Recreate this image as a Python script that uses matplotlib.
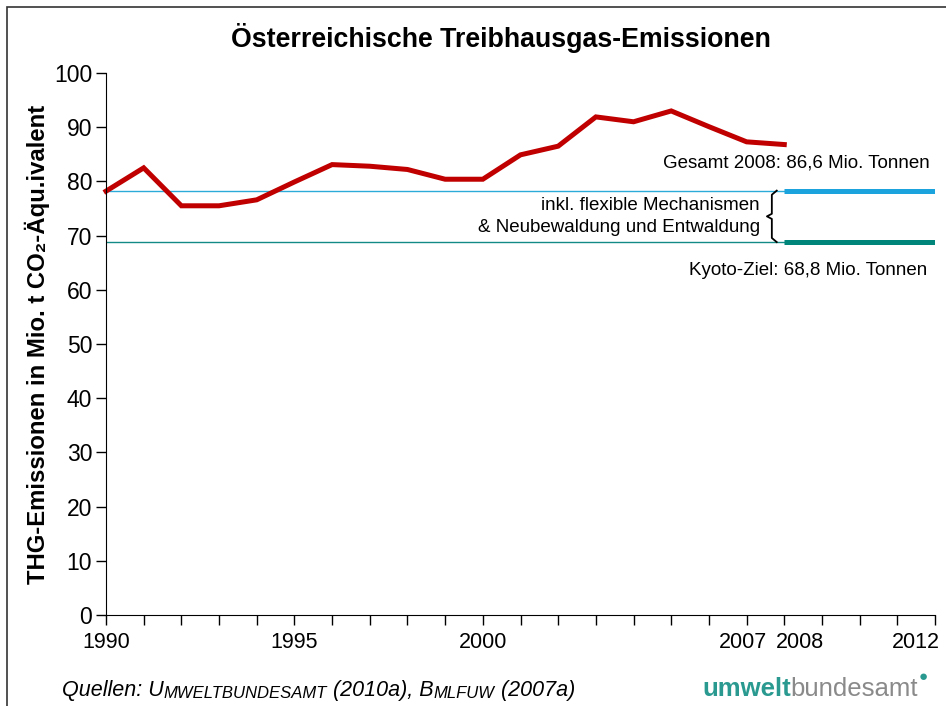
import matplotlib
matplotlib.use("Agg")
import matplotlib.pyplot as plt
from matplotlib.patches import Rectangle
from matplotlib.transforms import ScaledTranslation

plt.rcParams['font.family'] = ['Liberation Sans', 'DejaVu Sans']

# emissions, Mio. t CO2-Aequivalent
years = list(range(1990, 2009))
emissions = [78.2, 82.5, 75.5, 75.5, 76.6, 79.9, 83.1, 82.8, 82.2, 80.4,
             80.4, 84.9, 86.5, 91.9, 91.0, 93.0, 90.1, 87.3, 86.8]

flex_level = 78.3    # inkl. flexible Mechanismen & Neubewaldung
kyoto_level = 68.8   # Kyoto-Ziel
period_start = 2008
period_end = 2012

tick_years = list(range(1990, 2013))
label_years = [1990, 1995, 2000, 2007, 2008, 2012]
y_ticks = list(range(0, 101, 10))

fig = plt.figure(figsize=(9.46, 7.06), dpi=100)
# outer frame (open on right and bottom like the slide crop)
fig.patches.append(Rectangle((7 / 946, -0.05), 1.2, 1 - 7 / 706 + 0.05,
                             transform=fig.transFigure, fill=False,
                             edgecolor='#333333', linewidth=1.2))

ax = fig.add_axes([106 / 946, 1 - 615 / 706, (935 - 106) / 946, (615 - 73) / 706])
ax.set_xlim(1990, 2012)
ax.set_ylim(0, 100)

# thin reference lines up to 2008, thick ones over the Kyoto period
ax.plot([years[0], period_start], [flex_level, flex_level], color='#2AABD8', lw=1.0)
ax.plot([years[0], period_start], [kyoto_level, kyoto_level], color='#138A86', lw=1.0)
ax.plot([period_start, period_end], [flex_level, flex_level], color='#1AA3DC', lw=3.6,
        solid_capstyle='butt')
ax.plot([period_start, period_end], [kyoto_level, kyoto_level], color='#00857A', lw=3.6,
        solid_capstyle='butt')
ax.plot(years, emissions, color='#C00000', lw=3.6, solid_joinstyle='miter', clip_on=False)

ax.spines['top'].set_visible(False)
ax.spines['right'].set_visible(False)
ax.set_xticks(tick_years)
ax.set_xticklabels([str(y) if y in label_years else '' for y in tick_years])
ax.set_yticks(y_ticks)
ax.tick_params(axis='both', labelsize=16.5, length=7, width=1, direction='out', pad=3)
ax.tick_params(axis='x', labelsize=15.5, pad=5)
shifts = {2007: -0.04, 2008: 0.16, 2012: -0.19}
for lab, y in zip(ax.get_xticklabels(), tick_years):
    if y in shifts:
        lab.set_transform(lab.get_transform() +
                          ScaledTranslation(shifts[y], 0, fig.dpi_scale_trans))

ax.set_ylabel('THG-Emissionen in Mio. t CO₂-Äqu.ivalent', fontsize=17.2,
              fontweight='bold', labelpad=3)

# labels at the right
ax.text(2011.85, emissions[-1] - 1.8, 'Gesamt 2008: 86,6 Mio. Tonnen', fontsize=13.5,
        ha='right', va='top')
ax.text(2011.8, kyoto_level - 3.6, 'Kyoto-Ziel: 68,8 Mio. Tonnen', fontsize=13.5,
        ha='right', va='top')
ax.text(2007.35, (flex_level + kyoto_level) / 2,
        'inkl. flexible Mechanismen\n& Neubewaldung und Entwaldung',
        fontsize=13.5, ha='right', va='center', linespacing=1.35, multialignment='right')

# curly brace between the two levels
bx = period_start - 0.33
w = 0.13
mid = (flex_level + kyoto_level) / 2
h = flex_level - kyoto_level
ax.plot([bx + w, bx, bx, bx - w, bx, bx, bx + w],
        [flex_level, flex_level - 0.08 * h, mid + 0.05 * h, mid,
         mid - 0.05 * h, kyoto_level + 0.08 * h, kyoto_level],
        color='black', lw=1.3)

fig.text(501 / 946, 1 - 38 / 706, 'Österreichische Treibhausgas-Emissionen',
         fontsize=19.3, fontweight='bold', ha='center', va='center')

# source line with small caps imitation
t = fig.text(62 / 946, 1 - 696 / 706, 'Quellen: U', fontsize=15.5, style='italic',
             ha='left', va='baseline')
parts = [('MWELTBUNDESAMT', 12), (' (2010a), B', 15.5), ('MLFUW', 12), (' (2007a)', 15.5)]
for s, fs in parts:
    t = ax.annotate(s, xy=(1, 0), xycoords=t, fontsize=fs, style='italic',
                    ha='left', va='bottom', annotation_clip=False)

# logo text
lg = fig.text(702 / 946, 1 - 696 / 706, 'umwelt', fontsize=18.5, fontweight='bold',
              color='#2A9A90', ha='left', va='baseline')
lg = ax.annotate('bundesamt', xy=(1, 0), xycoords=lg, fontsize=18.5, color='#8A8A8A',
                 ha='left', va='bottom', annotation_clip=False)
ax.annotate('●', xy=(1, 0.72), xycoords=lg, fontsize=11, color='#2A9A90',
            ha='left', va='bottom', annotation_clip=False)

fig.savefig('out.png', dpi=100)
